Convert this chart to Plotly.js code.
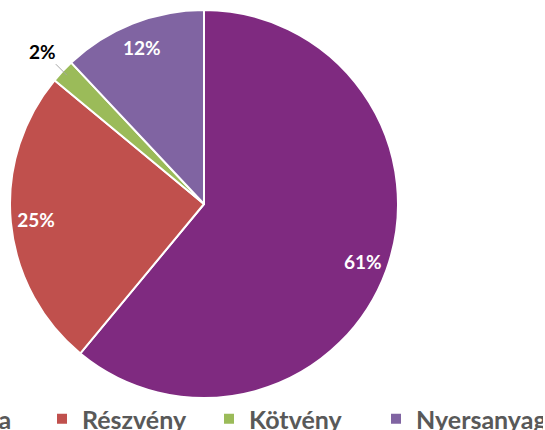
<!DOCTYPE html>
<html>
<head>
<meta charset="utf-8">
<script src="https://cdn.plot.ly/plotly-3.0.1.min.js"></script>
<style>
html, body { margin: 0; padding: 0; width: 545px; height: 430px; overflow: hidden; background: #fff; }
#chart { position: absolute; left: -130px; top: 0; width: 800px; height: 430px; }
</style>
</head>
<body>
<div id="chart"></div>
<script>
const labels = ["Ft valuta", "Részvény", "Kötvény", "Nyersanyag"];
const values = [61, 25, 2, 12];
const colors = ["#7F2A80", "#C0504D", "#9BBB59", "#8064A2"];
const insideText = ["inside", "inside", "none", "inside"];
const outsideLabelIndex = 2;

const W = 800, H = 430, SHIFT = 130;
const PIE_LEFT = SHIFT + 10, PIE_RIGHT = SHIFT + 398, PIE_TOP = 10, PIE_BOTTOM = 398;
const domain = { x: [PIE_LEFT / W, PIE_RIGHT / W], y: [(H - PIE_BOTTOM) / H, (H - PIE_TOP) / H] };

// base pie: the visible slices
const basePie = {
  type: "pie",
  labels: labels,
  values: values,
  sort: false,
  direction: "clockwise",
  rotation: 0,
  marker: { colors: colors, line: { color: "#FFFFFF", width: 2 } },
  textinfo: "none",
  hoverinfo: "none",
  domain: domain
};

// transparent ring that only carries the percentage labels near the rim
const labelRing = {
  type: "pie",
  labels: labels,
  values: values,
  sort: false,
  direction: "clockwise",
  rotation: 0,
  hole: 0.74,
  showlegend: false,
  marker: { colors: labels.map(() => "rgba(0,0,0,0)"), line: { width: 0 } },
  texttemplate: "%{percent:.0%}",
  textposition: insideText,
  insidetextorientation: "horizontal",
  textfont: { family: "Lato", size: 19, weight: "bold", color: "#FFFFFF" },
  hoverinfo: "none",
  domain: domain
};

// outside label for the small slice, anchored on its mid-angle
const total = values.reduce((a, b) => a + b, 0);
const cumBefore = values.slice(0, outsideLabelIndex).reduce((a, b) => a + b, 0);
const theta = 2 * Math.PI * (cumBefore + values[outsideLabelIndex] / 2) / total;
const cx = (PIE_LEFT + PIE_RIGHT) / 2, cy = (PIE_TOP + PIE_BOTTOM) / 2;
const R = (PIE_RIGHT - PIE_LEFT) / 2;
const px = cx + 0.97 * R * Math.sin(theta);
const py = cy - 0.97 * R * Math.cos(theta);

const layout = {
  width: W, height: H,
  margin: { l: 0, r: 0, t: 0, b: 0, pad: 0, autoexpand: false },
  paper_bgcolor: "#FFFFFF",
  plot_bgcolor: "#FFFFFF",
  showlegend: true,
  legend: {
    orientation: "h",
    x: (SHIFT - 125) / W, xanchor: "left",
    y: 11 / H, yanchor: "middle",
    entrywidth: 122, entrywidthmode: "pixels",
    font: { family: "Lato", size: 25, weight: "bold", color: "#595959" },
    bgcolor: "rgba(0,0,0,0)"
  },
  annotations: [{
    xref: "paper", yref: "paper",
    x: px / W, y: 1 - py / H,
    text: Math.round(100 * values[outsideLabelIndex] / total) + "%",
    showarrow: true, arrowhead: 0, arrowwidth: 1, arrowcolor: "#A6A6A6",
    standoff: 0, startstandoff: 0,
    ax: -24, ay: -24,
    font: { family: "Lato", size: 19, weight: "bold", color: "#000000" }
  }]
};

Plotly.newPlot("chart", [basePie, labelRing], layout, { displayModeBar: false, staticPlot: true });
</script>
</body>
</html>
